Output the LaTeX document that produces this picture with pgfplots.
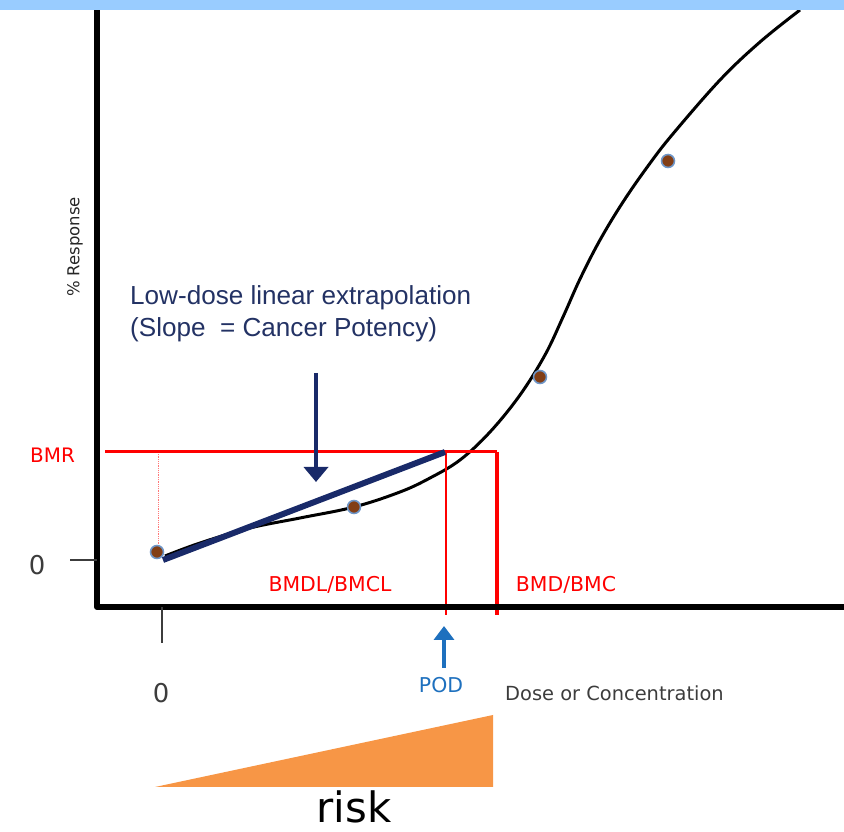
\documentclass[border=0pt]{standalone}
\usepackage{pgfplots}
\pgfplotsset{compat=1.18}
\usetikzlibrary{arrows.meta}
\usepackage{fontspec}
\setmainfont{DejaVu Sans}
\newfontfamily\arial{Liberation Sans}
\definecolor{topblue}{RGB}{153,204,255}
\definecolor{navy}{RGB}{25,42,105}
\definecolor{navytext}{RGB}{35,50,100}
\definecolor{podblue}{RGB}{30,112,190}
\definecolor{riskorange}{RGB}{247,150,70}
\definecolor{ptbrown}{RGB}{130,62,22}
\definecolor{ptedge}{RGB}{110,150,200}
\definecolor{redline}{RGB}{255,0,0}
\definecolor{labgray}{RGB}{60,60,60}
\begin{document}
\begin{tikzpicture}
\begin{axis}[scale only axis, width=844bp, height=832bp,
  xmin=0, xmax=844, ymin=0, ymax=832, hide axis, clip=false]
% extent
\addplot[draw=none, forget plot] coordinates {(0,0) (844,832)};
% risk triangle
\addplot[fill=riskorange, draw=none] coordinates {(155,45) (493,117) (493,45)} -- cycle;
% dotted pink vertical
\addplot[draw={rgb,255:red,255;green,120;blue,120}, line width=0.8pt, densely dotted] coordinates {(158,380) (158,284)};
% dose-response curve
\addplot[black, line width=3pt, smooth, tension=0.6] coordinates {
 (165,276) (200,289) (250,304) (300,314) (354,325) (400,340) (430,354)
 (460,372) (490,400) (520,437) (545,477) (563,515) (580,553) (600,592)
 (623,630) (648,666) (672,697) (720,752) (760,790) (800,822)};
% red BMR lines
\addplot[redline, line width=3pt] coordinates {(105,380) (497,380)};
\addplot[redline, line width=2.6pt] coordinates {(446,380) (446,217)};
\addplot[redline, line width=3.4pt] coordinates {(497,380) (497,217)};
% low-dose linear extrapolation
\addplot[navy, line width=6pt] coordinates {(163,272) (445,380)};
% navy arrow
\addplot[navy, line width=4pt, -{Triangle[width=24bp,length=15bp]}] coordinates {(316,459) (316,350)};
% POD arrow
\addplot[podblue, line width=3.6pt, -{Triangle[width=20bp,length=14bp]}] coordinates {(444,164) (444,206)};
% axes
\addplot[black, line width=6pt, line join=round] coordinates {(97,822) (97,225) (844,225)};
\addplot[labgray, line width=2.8pt] coordinates {(70,272) (97,272)};
\addplot[labgray, line width=2.8pt] coordinates {(162,225) (162,189)};
% data points
\addplot[only marks, mark=*, mark size=6.5pt, mark options={fill=ptbrown, draw=ptedge, line width=1.6pt}]
 coordinates {(157,280) (354,325) (540,455) (668,671)};
% top bar
\addplot[fill=topblue, draw=none] coordinates {(0,832) (844,832) (844,822) (0,822)} -- cycle;
% texts
\node[anchor=base west, inner sep=0, text=navytext, font=\arial\fontsize{26.2}{30}\selectfont] at (axis cs:130,527) {Low-dose linear extrapolation};
\node[anchor=base west, inner sep=0, text=navytext, font=\arial\fontsize{26.2}{30}\selectfont] at (axis cs:130,495) {(Slope\ \ = Cancer Potency)};
\node[anchor=west, inner sep=0, text=redline, font=\fontsize{20}{24}\selectfont] at (axis cs:30,377) {BMR};
\node[anchor=center, inner sep=0, text=labgray, font=\fontsize{26}{30}\selectfont] at (axis cs:37,267) {0};
\node[anchor=center, inner sep=0, text=labgray, font=\fontsize{26}{30}\selectfont] at (axis cs:161,139) {0};
\node[anchor=center, inner sep=0, text=redline, font=\fontsize{20.5}{24}\selectfont] at (axis cs:330,247) {BMDL/BMCL};
\node[anchor=center, inner sep=0, text=redline, font=\fontsize{20.5}{24}\selectfont] at (axis cs:566,247) {BMD/BMC};
\node[anchor=center, inner sep=0, text=podblue, font=\fontsize{20.5}{24}\selectfont] at (axis cs:441,147) {POD};
\node[anchor=west, inner sep=0, text=labgray, font=\fontsize{19.5}{24}\selectfont] at (axis cs:505,139) {Dose or Concentration};
\node[anchor=center, inner sep=0, text=black!85, rotate=90, font=\fontsize{16.5}{20}\selectfont] at (axis cs:75,585) {\% Response};
\node[anchor=base, inner sep=0, text=black, font=\fontsize{42}{48}\selectfont] at (axis cs:354,10) {risk};
\end{axis}
\pgfresetboundingbox
\path[use as bounding box] (current axis.south west) rectangle (current axis.north east);
\end{tikzpicture}
\end{document}
